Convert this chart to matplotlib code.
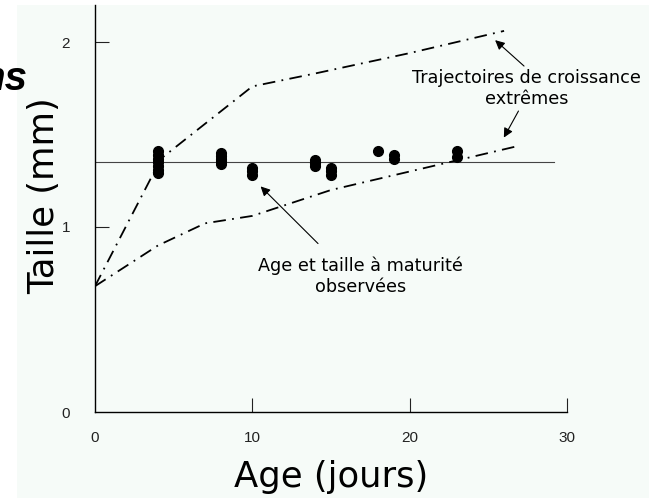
import matplotlib
matplotlib.use('Agg')
import matplotlib.pyplot as plt
from matplotlib.patches import Rectangle

# observed age / size at maturity (stacked points)
obs_age = [4, 4, 4, 4, 4, 4, 4, 8, 8, 8, 8, 8, 10, 10, 10, 14, 14, 14, 15, 15, 15,
           18, 19, 19, 23, 23]
obs_size = [1.29, 1.31, 1.33, 1.35, 1.37, 1.39, 1.41, 1.34, 1.355, 1.37, 1.385, 1.40,
            1.28, 1.30, 1.32, 1.33, 1.345, 1.36, 1.28, 1.30, 1.32,
            1.41, 1.37, 1.39, 1.38, 1.41]

# extreme growth trajectories
up_age = [0, 4.2, 10, 14, 20, 26]
up_size = [0.68, 1.37, 1.76, 1.83, 1.94, 2.06]
low_age = [0, 4, 7, 10, 15, 20, 23, 27]
low_size = [0.68, 0.90, 1.02, 1.06, 1.20, 1.30, 1.36, 1.44]

mean_size = 1.35
xticks = [0, 10, 20, 30]
yticks = [0, 1, 2]

fig = plt.figure(figsize=(6.49, 4.98), dpi=100)
fig.patches.append(Rectangle((17 / 649, 0), 1, 493 / 498, transform=fig.transFigure,
                             facecolor='#f6fbf8', edgecolor='none', zorder=-1))
ax = fig.add_axes([95 / 649, 86 / 498, 472 / 649, 407 / 498])
ax.patch.set_alpha(0)

ax.plot([0, 29.2], [mean_size, mean_size], color='#444444', lw=0.8)
ax.plot(up_age, up_size, color='k', lw=1.3, dashes=(7, 3.5, 1, 3.5))
ax.plot(low_age, low_size, color='k', lw=1.3, dashes=(7, 3.5, 1, 3.5))
ax.plot(obs_age, obs_size, 'o', color='k', ms=7)

ax.set_xlim(0, 30)
ax.set_ylim(0, 2.2)
for s in ['top', 'right']:
    ax.spines[s].set_visible(False)
ax.spines['left'].set_linewidth(1)
ax.spines['bottom'].set_linewidth(1)

ax.set_xticks(xticks)
ax.set_yticks(yticks)
ax.tick_params(direction='in', length=10, width=0.8, labelsize=11, pad=14, colors='#222222')
ax.tick_params(axis='y', pad=18)
for t in ax.get_xticklabels() + ax.get_yticklabels():
    t.set_fontfamily('Liberation Sans')
    t.set_fontweight('light')
ax.xaxis.get_major_ticks()[0].tick1line.set_visible(False)
ax.yaxis.get_major_ticks()[0].tick1line.set_visible(False)

ax.set_xlabel('Age (jours)', fontsize=25.5, va='baseline')
ax.xaxis.set_label_coords(0.5, (11 - 86) / 407)
ax.set_ylabel('Taille (mm)', fontsize=25.5, va='baseline')
ax.yaxis.set_label_coords((54 - 95) / 472, 0.531)

ax.text(27.45, 1.855, 'Trajectoires de croissance\nextrêmes', fontsize=12.7,
        ha='center', va='top', linespacing=1.25)
ax.annotate('', xy=(25.3, 2.02), xytext=(27.4, 1.86),
            arrowprops=dict(arrowstyle='-|>', color='k', lw=0.8, mutation_scale=14))
ax.annotate('', xy=(25.9, 1.47), xytext=(27.0, 1.64),
            arrowprops=dict(arrowstyle='-|>', color='k', lw=0.8, mutation_scale=14))

ax.text(16.9, 0.843, 'Age et taille à maturité\nobservées', fontsize=12.7,
        ha='center', va='top', linespacing=1.25)
ax.annotate('', xy=(10.4, 1.23), xytext=(14.3, 0.90),
            arrowprops=dict(arrowstyle='-|>', color='k', lw=0.8, mutation_scale=14))

# leftover of a cut-off heading at the left edge, as in the source image
fig.text(-20 / 649, 1 - 90 / 498, 'ns', fontsize=29, fontweight='bold', fontstyle='italic',
         fontfamily='Liberation Sans', ha='left', va='baseline')

fig.savefig('out.png', dpi=100)
